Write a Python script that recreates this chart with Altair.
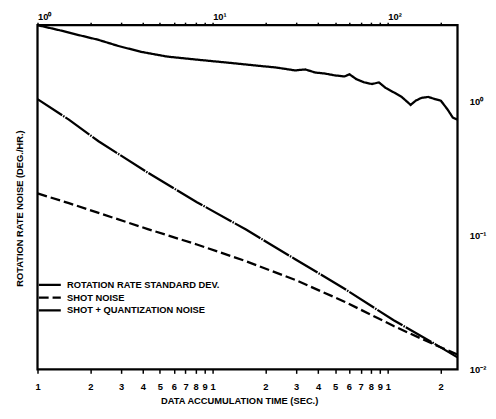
import altair as alt
import pandas as pd

# Series: rotation rate standard deviation (measured, noisy)
t_std = [1, 1.33, 1.72, 2.23, 2.89, 3.89, 5.52, 8.13, 12.0, 17.7, 22.9, 29.6, 33.8, 38.4,
         43.7, 49.7, 56.6, 60.4, 66.1, 73.3, 81.3, 89.0, 97.4, 108, 120, 135, 144, 155,
         170, 186, 201, 220, 235, 250]
v_std = [3.75, 3.44, 3.16, 2.91, 2.62, 2.37, 2.18, 2.07, 1.97, 1.87, 1.81, 1.72, 1.75, 1.66,
         1.63, 1.58, 1.55, 1.61, 1.48, 1.40, 1.36, 1.40, 1.27, 1.18, 1.09, 0.95, 1.02, 1.07,
         1.09, 1.05, 1.02, 0.873, 0.763, 0.737]

# Series: shot noise (dashed)
t_shot = [1, 1.51, 2.23, 4.26, 8.13, 15.5, 29.6, 56.6, 108, 181, 250]
v_shot = [0.207, 0.175, 0.148, 0.112, 0.0859, 0.0644, 0.0467, 0.0321, 0.0211, 0.0155, 0.0129]

# Series: shot + quantization noise
t_sq = [1, 1.51, 2.23, 4.26, 8.13, 15.5, 29.6, 56.6, 108, 181, 250]
v_sq = [1.05, 0.737, 0.508, 0.296, 0.178, 0.111, 0.0667, 0.0401, 0.0233, 0.0158, 0.0123]

series_names = ["ROTATION RATE STANDARD DEV.", "SHOT NOISE", "SHOT + QUANTIZATION NOISE"]

x_ticks = [1, 2, 3, 4, 5, 6, 7, 8, 9, 10, 20, 30, 40, 50, 60, 70, 80, 90, 100, 200]
y_ticks = [0.01, 0.1, 1]

rows = []
for i, (ts, vs) in enumerate([(t_std, v_std), (t_shot, v_shot), (t_sq, v_sq)]):
    for k, (t, v) in enumerate(zip(ts, vs)):
        rows.append({"series": series_names[i], "t": t, "v": v, "k": k})
df = pd.DataFrame(rows)

FONT = "Liberation Sans"
xscale = alt.Scale(type="log", domain=[1, 250], nice=False)
yscale = alt.Scale(type="log", domain=[0.01, 3.75], nice=False)

lines = alt.Chart(df).mark_line(strokeWidth=2.3, color="black").encode(
    x=alt.X("t:Q", scale=xscale, title="DATA ACCUMULATION TIME (SEC.)",
            axis=alt.Axis(orient="bottom", values=x_ticks, grid=False, domain=False,
                          ticks=True, tickSize=4, tickWidth=1.5, tickColor="black",
                          tickOpacity=1,
                          labelExpr="substring(toString(datum.value), 0, 1)",
                          labelFont=FONT, labelFontWeight="bold", labelFontSize=9.5,
                          labelColor="black", labelPadding=8, labelFlush=False,
                          titleFont=FONT, titleFontWeight="bold", titleFontSize=9.5,
                          titleColor="black", titlePadding=5, titleX=205)),
    y=alt.Y("v:Q", scale=yscale,
            axis=alt.Axis(orient="right", values=y_ticks, grid=False, domain=False, ticks=False,
                          labelExpr="datum.value == 1 ? '10⁰' : datum.value == 0.1 ? '10⁻¹' : '10⁻²'",
                          labelFont=FONT, labelFontWeight="bold", labelFontSize=9.5,
                          labelColor="black", labelPadding=12, labelFlush=False, title=None)),
    strokeDash=alt.StrokeDash("series:N",
                              scale=alt.Scale(domain=series_names,
                                              range=[[1, 0], [10, 4], [30, 1.2, 1.5, 1.2]]),
                              legend=alt.Legend(orient="none", legendX=0, legendY=258, title=None,
                                                symbolType="stroke", symbolSize=500,
                                                symbolStrokeWidth=2.3, symbolStrokeColor="black",
                                                labelFont=FONT, labelFontWeight="bold",
                                                labelFontSize=9.5, labelColor="black",
                                                labelOffset=5, rowPadding=1, clipHeight=12,
                                                padding=0)),
    order="k:Q",
)

top_axis = alt.Chart(df).mark_point(opacity=0).encode(
    x=alt.X("t:Q", scale=xscale, title=None,
            axis=alt.Axis(orient="top", values=x_ticks, grid=False, domain=False,
                          ticks=True, tickSize=3, tickWidth=1.5, tickColor="black",
                          tickOpacity=1,
                          labelExpr="datum.value == 1 ? '  10⁰' : datum.value == 10 ? '  10¹' : datum.value == 100 ? '  10²' : ''",
                          labelFont=FONT, labelFontWeight="bold", labelFontSize=9.5,
                          labelColor="black", labelPadding=1, labelAlign="left",
                          labelFlush=False)),
    y=alt.Y("v:Q", scale=yscale,
            axis=alt.Axis(orient="left", labels=False, ticks=False, domain=False, grid=False,
                          title="ROTATION RATE NOISE (DEG./HR.)", titleFont=FONT,
                          titleFontWeight="bold", titleFontSize=9.5, titleColor="black",
                          titlePadding=13, titleY=186)),
)

chart = alt.layer(lines, top_axis).resolve_axis(x="independent", y="independent").properties(
    width=427, height=350,
    autosize=alt.AutoSizeParams(type="none"),
    padding={"left": 30, "top": 14, "right": 31, "bottom": 47},
).configure_view(stroke="black", strokeWidth=2.3)

chart.save("out.html", embed_options={"renderer": "svg", "actions": False})
